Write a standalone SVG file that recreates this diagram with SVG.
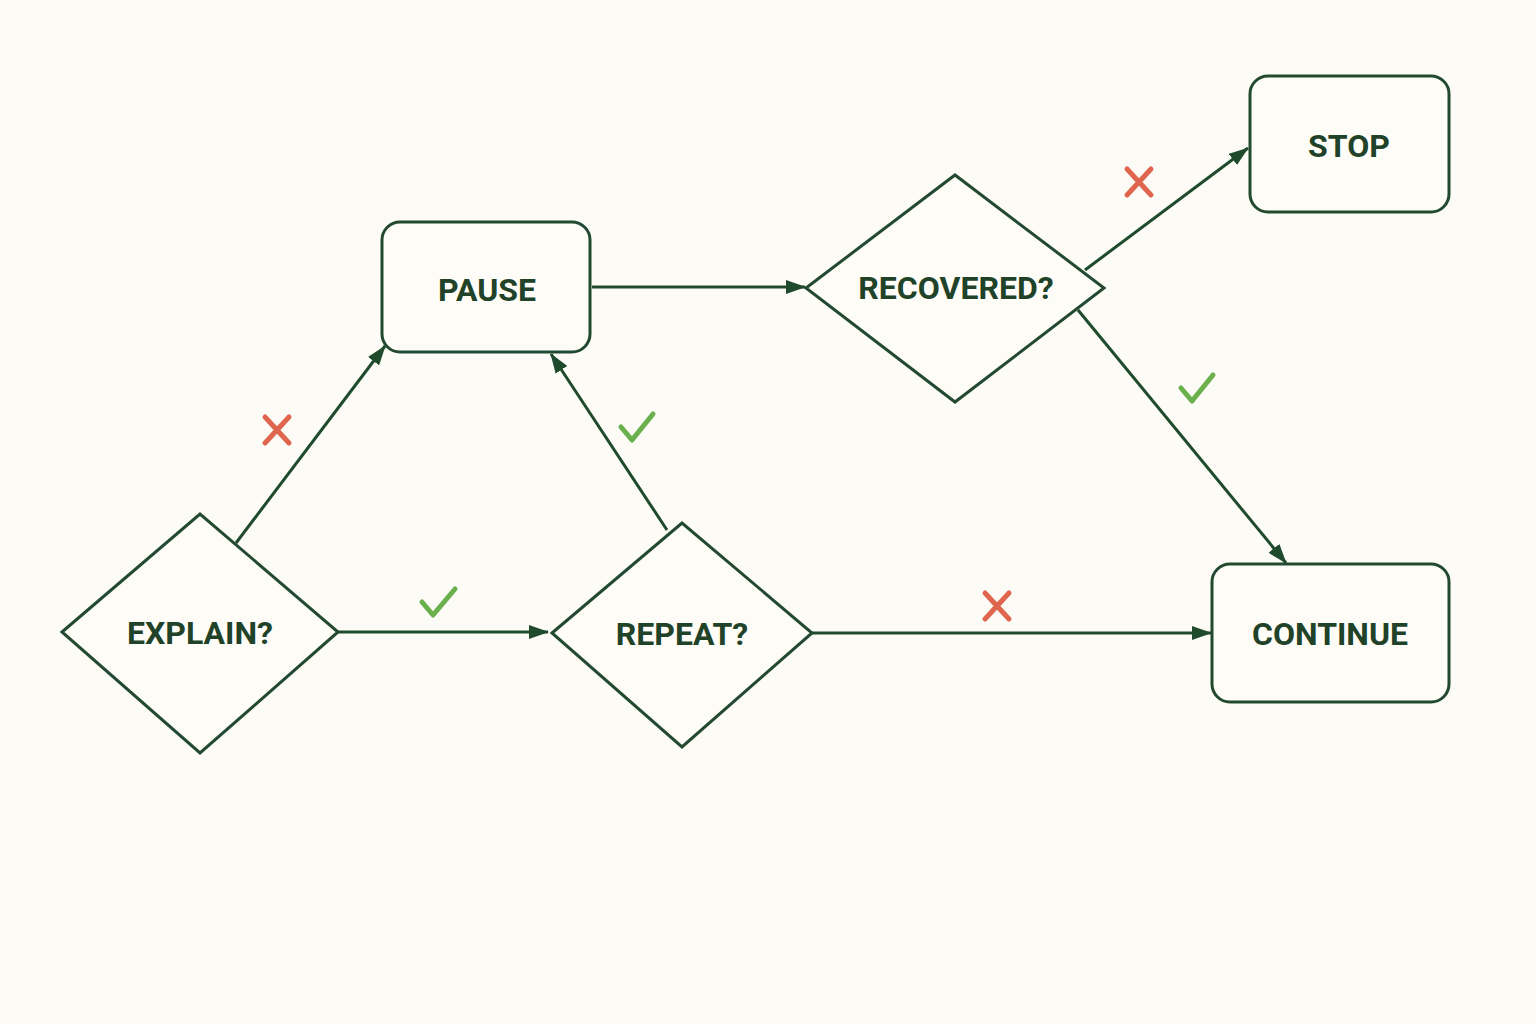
<svg xmlns="http://www.w3.org/2000/svg" width="1536" height="1024" viewBox="0 0 1536 1024">
<defs>
<marker id="ah" viewBox="0 0 20 14" refX="19" refY="7" markerWidth="20" markerHeight="14" markerUnits="userSpaceOnUse" orient="auto">
<path d="M0,0 L20,7 L0,14 Z" fill="#1f4a2c"/>
</marker>
<style>
.shape{fill:#fdfcf6;stroke:#234a30;stroke-width:3}
.lbl{font-family:Roboto,"Liberation Sans",sans-serif;font-weight:700;font-size:32px;fill:#1f4229;text-anchor:middle;dominant-baseline:central}
.edge{stroke:#1f4a2c;stroke-width:3;fill:none;marker-end:url(#ah)}
.x{stroke:#e0654e;stroke-width:5;stroke-linecap:round;fill:none}
.ok{stroke:#6ab04c;stroke-width:5;stroke-linecap:round;stroke-linejoin:round;fill:none}
</style>
</defs>
<rect width="1536" height="1024" fill="#fcfbf5"/>
<g id="connectors">
<line class="edge" x1="338" y1="632" x2="548" y2="632"/>
<line class="edge" x1="236" y1="543" x2="385" y2="346"/>
<line class="edge" x1="667" y1="530" x2="551" y2="354"/>
<line class="edge" x1="592" y1="287" x2="805" y2="287"/>
<line class="edge" x1="1085" y1="270" x2="1248" y2="148"/>
<line class="edge" x1="1078" y1="310" x2="1286" y2="563"/>
<line class="edge" x1="812" y1="633" x2="1211" y2="633"/>
<path class="ok" d="M422,602 L433,615 L455,589"/>
<path class="x" d="M265,417 L289,443 M289,417 L265,443"/>
<path class="ok" d="M621,427 L632,440 L653,414"/>
<path class="x" d="M1127,169 L1151,195 M1151,169 L1127,195"/>
<path class="ok" d="M1181,388 L1192,401 L1213,375"/>
<path class="x" d="M985,593 L1009,619 M1009,593 L985,619"/>
</g>
<g id="explain">
<polygon class="shape" points="62,632 200,514 338,632 200,753"/>
<text class="lbl" x="200" y="633">EXPLAIN?</text>
</g>
<g id="pause">
<rect class="shape" x="382" y="222" width="208" height="130" rx="18"/>
<text class="lbl" x="487" y="290">PAUSE</text>
</g>
<g id="repeat">
<polygon class="shape" points="552,633 682,523 812,633 682,747"/>
<text class="lbl" x="682" y="634">REPEAT?</text>
</g>
<g id="recovered">
<polygon class="shape" points="806,288 955,175 1104,288 955,402"/>
<text class="lbl" x="956" y="288">RECOVERED?</text>
</g>
<g id="stop">
<rect class="shape" x="1250" y="76" width="199" height="136" rx="18"/>
<text class="lbl" x="1349" y="146">STOP</text>
</g>
<g id="continue">
<rect class="shape" x="1212" y="564" width="237" height="138" rx="18"/>
<text class="lbl" x="1330" y="634">CONTINUE</text>
</g>
</svg>
